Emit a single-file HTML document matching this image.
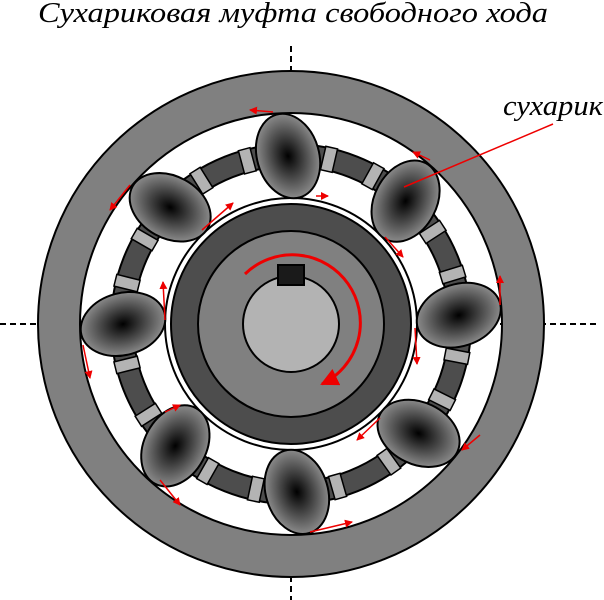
<!DOCTYPE html>
<html><head><meta charset="utf-8"><style>html,body{margin:0;padding:0;background:#fff}svg{display:block}</style></head>
<body>
<svg width="604" height="600" viewBox="0 0 604 600" xmlns="http://www.w3.org/2000/svg">
<defs>
<radialGradient id="g" cx="50%" cy="50%" r="50%"><stop offset="0" stop-color="#000"/><stop offset="1" stop-color="#8a8a8a"/></radialGradient>
<marker id="a" markerWidth="8" markerHeight="8" refX="7" refY="4" orient="auto" markerUnits="userSpaceOnUse"><path d="M0,0 L8,4 L0,8 Z" fill="#e00"/></marker>
<marker id="b" markerWidth="18" markerHeight="18" refX="16" refY="9" orient="auto" markerUnits="userSpaceOnUse"><path d="M0,0 L18,9 L0,18 Z" fill="#e00"/></marker>
</defs>
<text x="38" y="22" font-family="Liberation Serif, serif" font-style="italic" font-size="28" textLength="510" lengthAdjust="spacingAndGlyphs">Сухариковая муфта свободного хода</text>
<g stroke="#000" stroke-width="2" stroke-dasharray="6,4">
<line x1="291" y1="46" x2="291" y2="600"/><line x1="0" y1="324" x2="600" y2="324"/>
</g>
<circle cx="291" cy="324" r="232" fill="none" stroke="#000" stroke-width="44"/>
<circle cx="291" cy="324" r="232" fill="none" stroke="#808080" stroke-width="40"/>
<circle cx="291" cy="324" r="169" fill="none" stroke="#000" stroke-width="24"/>
<circle cx="291" cy="324" r="169" fill="none" stroke="#4d4d4d" stroke-width="20"/>
<g id="blocks" stroke="#000" stroke-width="1.5" fill="#b3b3b3"></g>
<circle cx="291" cy="324" r="126" fill="#fff" stroke="#000" stroke-width="2"/>
<circle cx="291" cy="324" r="120" fill="#4d4d4d" stroke="#000" stroke-width="2"/>
<circle cx="291" cy="324" r="93" fill="#808080" stroke="#000" stroke-width="2"/>
<circle cx="291" cy="324" r="48" fill="#b3b3b3" stroke="#000" stroke-width="2"/>
<rect x="278" y="265" width="26" height="20" fill="#1a1a1a" stroke="#000" stroke-width="2"/>
<path d="M245,274 A68,68 0 1 1 322,384" fill="none" stroke="#e00" stroke-width="3" marker-end="url(#b)"/>
<g id="rollers"></g>
<g stroke="#e00" stroke-width="1.5" fill="none" marker-end="url(#a)">
<line x1="273" y1="112" x2="250" y2="110"/>
<line x1="130" y1="185" x2="110" y2="210"/>
<line x1="202" y1="230" x2="233" y2="203"/>
<line x1="165" y1="320" x2="163" y2="282"/>
<line x1="83" y1="345" x2="90" y2="378"/>
<line x1="160" y1="480" x2="180" y2="505"/>
<line x1="316" y1="196" x2="328" y2="196"/>
<line x1="385" y1="237" x2="403" y2="257"/>
<line x1="430" y1="160" x2="413" y2="152"/>
<line x1="500" y1="305" x2="500" y2="276"/>
<line x1="415" y1="328" x2="417" y2="364"/>
<line x1="480" y1="435" x2="462" y2="450"/>
<line x1="380" y1="418" x2="357" y2="440"/>
<line x1="310" y1="532" x2="352" y2="522"/>
<line x1="165" y1="412" x2="180" y2="405"/>
</g>
<line x1="404" y1="187" x2="553" y2="124" stroke="#e00" stroke-width="1.5"/>
<text x="503" y="115" font-family="Liberation Serif, serif" font-style="italic" font-size="28" textLength="100" lengthAdjust="spacingAndGlyphs">сухарик</text>
<script>
var cx=291,cy=324,ns="http://www.w3.org/2000/svg";
var angs=[-91,-136,180,133.5,88,40.6,-3,-47];
var R=document.getElementById('rollers'),B=document.getElementById('blocks');
angs.forEach(function(a){
 [-14,14].forEach(function(d){
  var r=document.createElementNS(ns,'rect');
  r.setAttribute('x',157);r.setAttribute('y',-6);r.setAttribute('width',24);r.setAttribute('height',12);
  r.setAttribute('transform','translate('+cx+','+cy+') rotate('+(a+d)+')');
  B.appendChild(r);
 });
 var t=a*Math.PI/180,x=cx+168*Math.cos(t),y=cy+168*Math.sin(t);
 var e=document.createElementNS(ns,'ellipse');
 e.setAttribute('cx',x);e.setAttribute('cy',y);e.setAttribute('rx',43);e.setAttribute('ry',31);
 e.setAttribute('transform','rotate('+(a-15)+' '+x+' '+y+')');
 e.setAttribute('fill','url(#g)');e.setAttribute('stroke','#000');e.setAttribute('stroke-width','2');
 R.appendChild(e);
});
</script>
</svg>
</body></html>
